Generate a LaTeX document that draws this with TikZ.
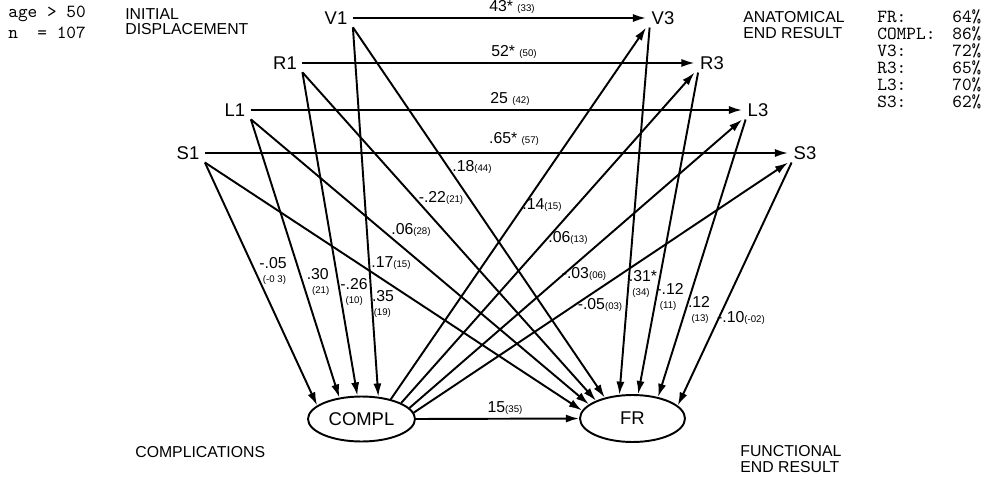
\documentclass[tikz,border=0pt]{standalone}
\usepackage{fontspec}
\setmainfont{Liberation Sans}
\usetikzlibrary{arrows.meta,shapes.geometric}
\newcommand\cpar[1]{{\fontsize{5.5}{6}\selectfont(#1)}}
\begin{document}
\begin{tikzpicture}[x=0.02cm,y=-0.02cm,
  var/.style={inner xsep=3pt,inner ysep=1.5pt,font=\fontsize{10.5}{12}\selectfont},
  oval/.style={ellipse,draw,line width=1.1pt,inner sep=0pt,font=\fontsize{10.5}{12}\selectfont},
  arr/.style={line width=1.1pt,-{Latex[length=7.5pt,width=4.6pt]}},
  coef/.style={font=\fontsize{9}{8.5}\selectfont,inner sep=0pt,align=left},
  caption/.style={font=\fontsize{9}{8.6}\selectfont,align=left,anchor=west,inner sep=0pt},
  tw/.style={font=\fontsize{10.5}{10.8}\selectfont\ttfamily,align=left,anchor=west,inner sep=0pt}]
\useasboundingbox (0,0) rectangle (995,477);

% text blocks
\node[tw] (age) at (8,14) {age > 50};
\node[tw] (n) at (8,33) {n~~=~107};
\node[caption] (initial) at (125,22) {INITIAL\\DISPLACEMENT};
\node[caption] (anat) at (743,25) {ANATOMICAL\\END RESULT};
\node[caption] (compls) at (135,452) {COMPLICATIONS};
\node[caption] (funct) at (740,459) {FUNCTIONAL\\END RESULT};
\foreach \k/\v/\y in {FR/64/17,COMPL/86/34,V3/72/51,R3/65/68,L3/70/85,S3/62/102}{
  \node[tw] (key\k) at (877,\y) {\k:};
  \node[tw] (val\k) at (952,\y) {\v\%};
}

% variables
\node[var] (V1) at (336,18) {V1};
\node[var] (R1) at (285,63) {R1};
\node[var] (L1) at (235,110) {L1};
\node[var] (S1) at (188,153) {S1};
\node[var] (V3) at (663,18) {V3};
\node[var] (R3) at (712,63) {R3};
\node[var] (L3) at (758,110) {L3};
\node[var] (S3) at (805,153) {S3};
\node[oval,minimum width=2.14cm,minimum height=0.9cm] (COMPL) at (361.5,419) {COMPL};
\node[oval,minimum width=2.1cm,minimum height=0.94cm] (FR) at (632.5,418.5) {FR};

% paths
\draw[arr] (V1.east) -- (V3.west);
\draw[arr] (R1.east) -- (R3.west);
\draw[arr] (L1.east) -- (L3.west);
\draw[arr] (S1.east) -- (S3.west);
\draw[arr] (S1.south east) -- (COMPL.163);
\draw[arr] (L1.south east) -- (COMPL.136);
\draw[arr] (R1.south east) -- (COMPL.100);
\draw[arr] (V1.south east) -- (COMPL.53);
\draw[arr] (S1.south east) -- (FR.171);
\draw[arr] (L1.south east) -- (FR.162);
\draw[arr] (R1.south east) -- (FR.154);
\draw[arr] (V1.south east) -- (FR.143);
\draw[arr] (COMPL.34) -- (V3.south west);
\draw[arr] (COMPL.22) -- (R3.south west);
\draw[arr] (COMPL.13) -- (L3.south west);
\draw[arr] (COMPL.7) -- (S3.south west);
\draw[arr] ([xshift=2pt]V3.south west) -- (FR.119);
\draw[arr] ([xshift=2pt]R3.south west) -- (FR.77);
\draw[arr] ([xshift=2pt]L3.south west) -- (FR.40);
\draw[arr] ([xshift=2pt]S3.south west) -- (FR.16);
\draw[arr] (COMPL.east) -- (FR.west);

% coefficients
\node[coef] (cvv) at (512,7) {43*~\cpar{33}};
\node[coef] (crr) at (514,52) {52*~\cpar{50}};
\node[coef] (cll) at (510,99) {25~\cpar{42}};
\node[coef] (css) at (514,139) {.65*~\cpar{57}};
\node[coef] (cv1fr) at (472,167) {.18\cpar{44}};
\node[coef] (cr1fr) at (441,198) {-.22\cpar{21}};
\node[coef] (cl1fr) at (411,230) {.06\cpar{28}};
\node[coef] (cs1fr) at (391,263) {.17\cpar{15}};
\node[coef] (cs1c) at (273,271) {-.05\\\hspace*{2pt}\cpar{-0 3}};
\node[coef] (cl1c) at (318,282) {.30\\\hspace*{3pt}\cpar{21}};
\node[coef] (cr1c) at (354,292) {-.26\\\hspace*{3pt}\cpar{10}};
\node[coef] (cv1c) at (383,304) {.35\\\hspace*{1pt}\cpar{19}};
\node[coef] (ccv3) at (542,205) {.14\cpar{15}};
\node[coef] (ccr3) at (568,238) {.06\cpar{13}};
\node[coef] (ccl3) at (584,274) {-.03\cpar{06}};
\node[coef] (ccs3) at (600,305) {-.05\cpar{03}};
\node[coef] (cv3fr) at (643,284) {.31*\\\hspace*{2pt}\cpar{34}};
\node[coef] (cr3fr) at (670,297) {-.12\\\hspace*{2pt}\cpar{11}};
\node[coef] (cl3fr) at (699,310) {.12\\\hspace*{2pt}\cpar{13}};
\node[coef] (cs3fr) at (741,318) {-.10\cpar{-02}};
\node[coef] (ccfr) at (505,408) {15\cpar{35}};
\end{tikzpicture}
\end{document}
